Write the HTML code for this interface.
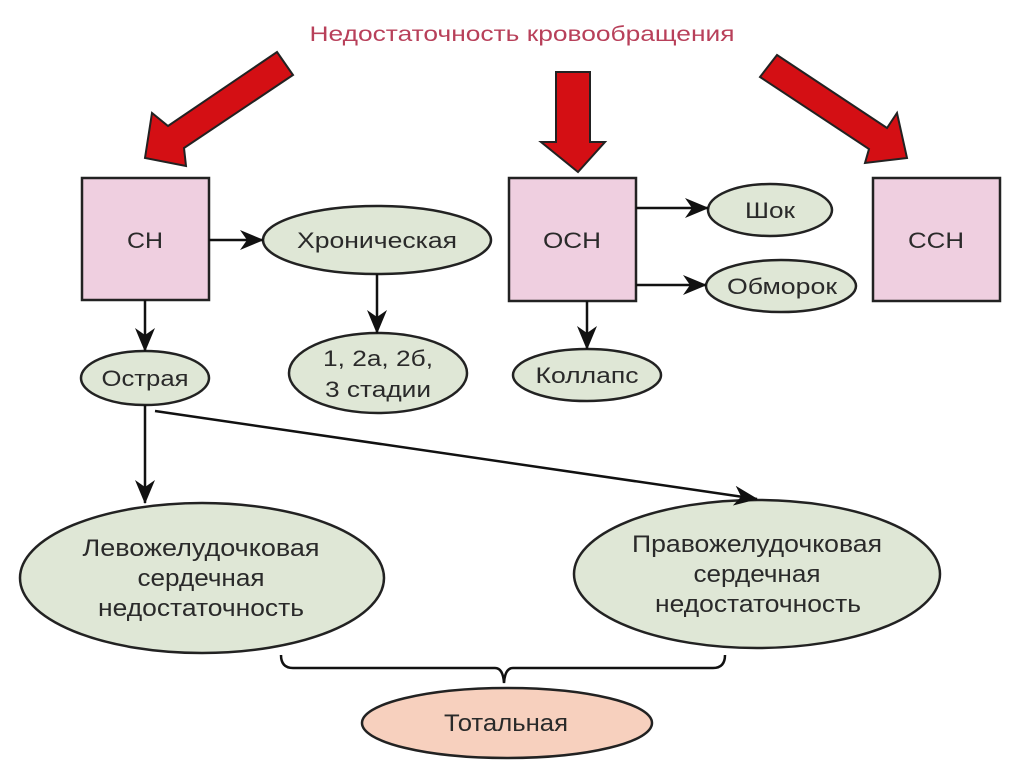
<!DOCTYPE html>
<html><head><meta charset="utf-8"><style>
html,body{margin:0;padding:0;background:#fff}
svg{display:block}
text{font-family:"Liberation Sans","DejaVu Sans",sans-serif;fill:#2a2a2a}
</style></head><body>
<svg width="1024" height="767" viewBox="0 0 1024 767" xmlns="http://www.w3.org/2000/svg">
<defs>
<marker id="ah2" markerWidth="24" markerHeight="20" refX="23" refY="10" orient="auto" markerUnits="userSpaceOnUse" viewBox="0 0 24 20">
<path d="M0,0 L24,10 L0,20 L7,10 Z" fill="#111"/>
</marker>
</defs>
<text x="522" y="41" text-anchor="middle" font-size="21" style="fill:#b8405a" textLength="425" lengthAdjust="spacingAndGlyphs">Недостаточность кровообращения</text>

<g fill="#d40f14" stroke="#222" stroke-width="2" stroke-linejoin="miter">
<polygon points="277,52 293,75 184,148 186,166 145,158 152,113 168,126"/>
<polygon points="556,72 590,72 590,142 605,142 578,172 541,142 556,142"/>
<polygon points="777,55 760,77 869,149 865,163 907,158 897,113 887,128"/>
</g>

<g fill="#efcfe0" stroke="#222" stroke-width="2.5">
<rect x="82" y="178" width="127" height="122"/>
<rect x="509" y="178" width="127" height="123"/>
<rect x="873" y="178" width="127" height="123"/>
</g>
<g font-size="22" text-anchor="middle">
<text x="145" y="248" textLength="36" lengthAdjust="spacingAndGlyphs">СН</text>
<text x="572" y="248" textLength="58" lengthAdjust="spacingAndGlyphs">ОСН</text>
<text x="936" y="248" textLength="56" lengthAdjust="spacingAndGlyphs">ССН</text>
</g>

<g fill="#dfe7d6" stroke="#222" stroke-width="2.5">
<ellipse cx="377" cy="240" rx="114" ry="34"/>
<ellipse cx="378" cy="373" rx="89" ry="40"/>
<ellipse cx="145" cy="378" rx="64" ry="27"/>
<ellipse cx="770" cy="210" rx="62" ry="26"/>
<ellipse cx="781" cy="286" rx="75" ry="26"/>
<ellipse cx="587" cy="375" rx="74" ry="26"/>
<ellipse cx="202" cy="578" rx="182" ry="75"/>
<ellipse cx="757" cy="574" rx="183" ry="74"/>
</g>
<ellipse cx="507" cy="723" rx="145" ry="35" fill="#f7d0be" stroke="#222" stroke-width="2.5"/>

<g font-size="22" text-anchor="middle" lengthAdjust="spacingAndGlyphs">
<text x="377" y="248" textLength="160" lengthAdjust="spacingAndGlyphs">Хроническая</text>
<text x="378" y="366" textLength="110" lengthAdjust="spacingAndGlyphs">1, 2а, 2б,</text>
<text x="378" y="397" textLength="106" lengthAdjust="spacingAndGlyphs">3 стадии</text>
<text x="145" y="386" textLength="87" lengthAdjust="spacingAndGlyphs">Острая</text>
<text x="770" y="218" textLength="50" lengthAdjust="spacingAndGlyphs">Шок</text>
<text x="782" y="294" textLength="110" lengthAdjust="spacingAndGlyphs">Обморок</text>
<text x="587" y="383" textLength="103" lengthAdjust="spacingAndGlyphs">Коллапс</text>
</g>
<g font-size="24" text-anchor="middle">
<text x="201" y="556" textLength="237" lengthAdjust="spacingAndGlyphs">Левожелудочковая</text>
<text x="201" y="586" textLength="127" lengthAdjust="spacingAndGlyphs">сердечная</text>
<text x="201" y="616" textLength="206" lengthAdjust="spacingAndGlyphs">недостаточность</text>
<text x="757" y="552" textLength="250" lengthAdjust="spacingAndGlyphs">Правожелудочковая</text>
<text x="757" y="582" textLength="127" lengthAdjust="spacingAndGlyphs">сердечная</text>
<text x="758" y="612" textLength="206" lengthAdjust="spacingAndGlyphs">недостаточность</text>
<text x="506" y="731" textLength="124" lengthAdjust="spacingAndGlyphs">Тотальная</text>
</g>

<g stroke="#111" stroke-width="2.5" fill="none">
<line x1="209" y1="240" x2="263" y2="240" marker-end="url(#ah2)"/>
<line x1="377" y1="274" x2="377" y2="333" marker-end="url(#ah2)"/>
<line x1="145" y1="300" x2="145" y2="351" marker-end="url(#ah2)"/>
<line x1="636" y1="208" x2="708" y2="208" marker-end="url(#ah2)"/>
<line x1="636" y1="285" x2="706" y2="285" marker-end="url(#ah2)"/>
<line x1="587" y1="301" x2="587" y2="349" marker-end="url(#ah2)"/>
<line x1="145" y1="405" x2="145" y2="503" marker-end="url(#ah2)"/>
<line x1="155" y1="411" x2="757" y2="499" marker-end="url(#ah2)"/>
<path d="M281,655 Q281,668 293,668 L495,668 Q503,668 504,683 Q505,668 513,668 L713,668 Q725,668 725,655"/>
</g>
</svg>
</body></html>
